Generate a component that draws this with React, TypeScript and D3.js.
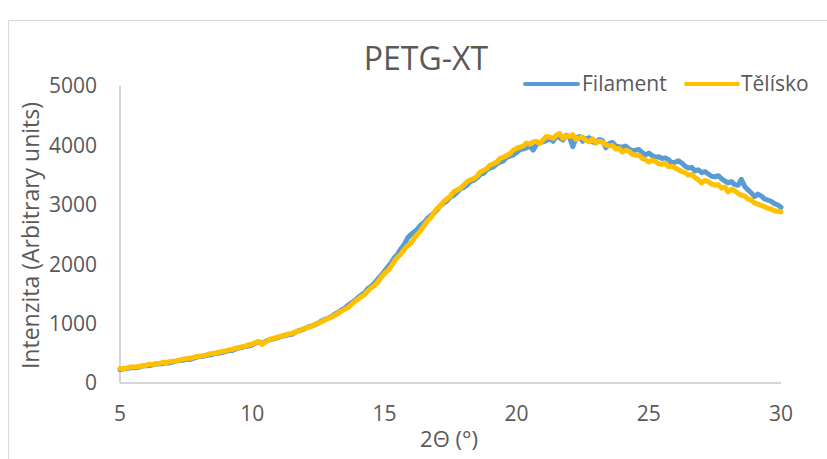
import React from 'react';
import * as d3 from 'd3';

// 2Θ grid, 0.125° steps from 5 to 30
const angles: number[] = d3.range(0, 201).map(i => 5 + i * 0.125);

const filament: number[] = [
  225, 238, 240, 255, 262, 258, 270, 288, 292, 296, 305, 322, 318, 326, 340, 338,
  352, 370, 378, 382, 398, 395, 410, 432, 445, 448, 462, 470, 480, 498, 505, 515,
  530, 545, 548, 572, 590, 598, 615, 625, 640, 672, 690, 668, 700, 722, 735, 752,
  770, 788, 800, 812, 820, 852, 880, 892, 915, 945, 960, 978, 1010, 1048, 1070, 1090,
  1120, 1160, 1185, 1230, 1260, 1310, 1350, 1385, 1440, 1480, 1520, 1590, 1630, 1680, 1750, 1810,
  1880, 1950, 2020, 2110, 2170, 2260, 2330, 2440, 2500, 2540, 2590, 2660, 2700, 2770, 2820, 2860,
  2920, 2990, 3030, 3070, 3130, 3160, 3210, 3270, 3290, 3330, 3390, 3410, 3450, 3510, 3530, 3590,
  3620, 3640, 3690, 3720, 3740, 3800, 3820, 3840, 3880, 3930, 3940, 3960, 3990, 3920, 4010, 4050,
  4060, 4080, 4110, 4070, 4150, 4130, 4090, 4170, 4140, 3980, 4120, 4150, 4070, 4110, 4130, 4060,
  4040, 4100, 4080, 3960, 4030, 4050, 3990, 3980, 3970, 3990, 3940, 3910, 3920, 3930, 3880, 3840,
  3870, 3830, 3800, 3810, 3780, 3790, 3760, 3700, 3720, 3740, 3700, 3650, 3620, 3630, 3570, 3590,
  3540, 3560, 3520, 3480, 3470, 3490, 3440, 3400, 3370, 3390, 3340, 3330, 3430, 3310, 3250, 3200,
  3140, 3180, 3150, 3100, 3080, 3060, 3020, 3000, 2960,
];

const telisko: number[] = [
  245, 240, 250, 268, 270, 275, 282, 292, 300, 318, 312, 325, 330, 348, 345, 358,
  368, 372, 385, 402, 410, 418, 425, 446, 452, 458, 470, 490, 498, 505, 520, 532,
  540, 560, 565, 585, 598, 610, 625, 645, 655, 680, 700, 650, 690, 728, 745, 760,
  780, 790, 810, 825, 835, 860, 870, 905, 925, 935, 955, 990, 1005, 1030, 1060, 1090,
  1110, 1140, 1170, 1210, 1240, 1270, 1320, 1370, 1410, 1450, 1490, 1550, 1600, 1640, 1700, 1780,
  1840, 1890, 1960, 2050, 2120, 2170, 2250, 2310, 2350, 2440, 2500, 2570, 2650, 2730, 2780, 2870,
  2940, 2990, 3060, 3100, 3150, 3220, 3250, 3280, 3330, 3390, 3420, 3440, 3480, 3550, 3580, 3610,
  3670, 3690, 3720, 3780, 3800, 3830, 3860, 3920, 3950, 3970, 3990, 4040, 4020, 4060, 4070, 4030,
  4090, 4150, 4140, 4120, 4170, 4200, 4120, 4160, 4150, 4180, 4100, 4130, 4140, 4080, 4060, 4110,
  4040, 4070, 4060, 4010, 3990, 4000, 3940, 3950, 3890, 3920, 3900, 3850, 3830, 3840, 3780, 3760,
  3720, 3750, 3730, 3690, 3680, 3700, 3640, 3650, 3620, 3590, 3560, 3540, 3500, 3510, 3460, 3420,
  3370, 3410, 3390, 3350, 3330, 3340, 3280, 3300, 3220, 3260, 3240, 3190, 3160, 3150, 3100, 3080,
  3030, 3010, 2990, 2970, 2940, 2930, 2900, 2890, 2880,
];

const xTicks = [5, 10, 15, 20, 25, 30];
const yTicks = [0, 1000, 2000, 3000, 4000, 5000];

const seriesList = [
  { name: 'Filament', values: filament, color: '#5B9BD5' },
  { name: 'Tělísko', values: telisko, color: '#FFC000' },
];

const W = 827;
const H = 459;
const font = '"Open Sans", sans-serif';
const textColor = '#595959';

const App = () => {
  const x = d3.scaleLinear().domain([5, 30]).range([120, 781]);
  const y = d3.scaleLinear().domain([0, 5000]).range([383, 86]);

  const line = d3.line<number>()
    .x((d, i) => x(angles[i]))
    .y(d => y(d));

  return (
    <svg width={W} height={H} style={{ position: 'absolute', left: 0, top: 0, background: '#fff' }}>
      <rect x={8.5} y={20.5} width={W} height={H} fill="#fff" stroke="#D9D9D9" />

      <text x={426} y={70} textAnchor="middle" fontFamily={font} fontSize={32} fill={textColor}>
        PETG-XT
      </text>

      {/* legend */}
      <g fontFamily={font} fontSize={21} fill={textColor}>
        <line x1={525} x2={578} y1={84} y2={84} stroke="#5B9BD5" strokeWidth={4} strokeLinecap="round" />
        <text x={582} y={84} dy="0.35em">Filament</text>
        <line x1={686} x2={738} y1={84} y2={84} stroke="#FFC000" strokeWidth={4} strokeLinecap="round" />
        <text x={741} y={84} dy="0.35em">Tělísko</text>
      </g>

      {/* axes */}
      <line x1={120} x2={120} y1={y(5000)} y2={y(0)} stroke="#C8C8C8" strokeWidth={1.5} />
      <line x1={120} x2={x(30)} y1={y(0)} y2={y(0)} stroke="#C8C8C8" strokeWidth={1.5} />

      <g fontFamily={font} fontSize={21} fill={textColor}>
        {yTicks.map(t => (
          <text key={t} x={97} y={y(t)} dy="0.35em" textAnchor="end">{t}</text>
        ))}
        {xTicks.map(t => (
          <text key={t} x={x(t)} y={414} dy="0.35em" textAnchor="middle">{t}</text>
        ))}
      </g>

      <text x={449} y={439} dy="0.35em" textAnchor="middle" fontFamily={font} fontSize={22} fill={textColor}>
        2Θ (°)
      </text>
      <text
        transform={`translate(31, ${(y(0) + y(5000)) / 2 + 1}) rotate(-90)`}
        dy="0.35em"
        textAnchor="middle"
        fontFamily={font}
        fontSize={23}
        fill={textColor}
      >
        Intenzita (Arbitrary units)
      </text>

      {seriesList.map(s => (
        <path
          key={s.name}
          d={line(s.values) || ''}
          fill="none"
          stroke={s.color}
          strokeWidth={5}
          strokeLinejoin="round"
          strokeLinecap="round"
        />
      ))}
    </svg>
  );
};

export default App;
